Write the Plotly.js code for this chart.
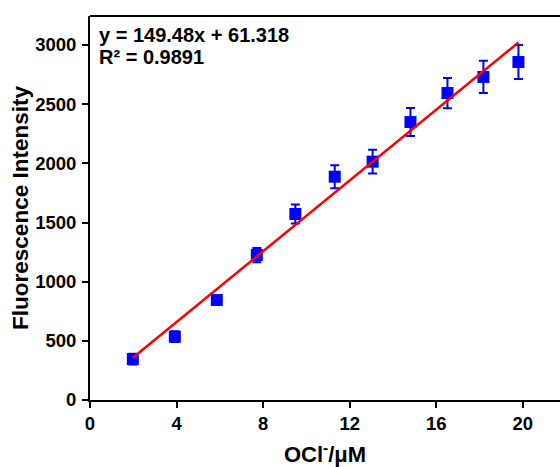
<!DOCTYPE html>
<html>
<head>
<meta charset="utf-8">
<script src="https://cdn.plot.ly/plotly-3.0.1.min.js"></script>
<style>html,body{margin:0;padding:0;background:#fff;}#chart{width:560px;height:467px;}</style>
</head>
<body>
<div id="chart"></div>
<script>
// Data
const concentration = [1.98, 3.92, 5.86, 7.71, 9.49, 11.31, 13.06, 14.81, 16.52, 18.18, 19.8];
const intensity = [346, 535, 845, 1225, 1572, 1887, 2014, 2349, 2594, 2730, 2856];
const intensityErr = [45, 45, 20, 60, 80, 97, 101, 118, 128, 136, 144];
const fitSlope = 149.48;
const fitIntercept = 61.318;
const fitR2 = 0.9891;
const xTicks = [0, 4, 8, 12, 16, 20];
const yTicks = [0, 500, 1000, 1500, 2000, 2500, 3000];

const fitX = [concentration[0], concentration[concentration.length - 1]];
const fitY = fitX.map(x => fitSlope * x + fitIntercept);

const font = 'Arial, "Liberation Sans", sans-serif';

const traces = [
  {
    x: concentration, y: intensity, type: 'scatter', mode: 'markers',
    marker: {symbol: 'square', size: 12, color: '#0000FF'},
    error_y: {type: 'data', array: intensityErr, visible: true, color: '#0000FF', thickness: 2, width: 4.5},
    showlegend: false, hoverinfo: 'x+y'
  },
  {
    x: fitX, y: fitY, type: 'scatter', mode: 'lines',
    line: {color: '#FF0000', width: 2.5}, showlegend: false
  }
];

const tickFont = {family: font, size: 18.5, weight: 'bold', color: '#000'};

const layout = {
  width: 560, height: 467,
  margin: {l: 90, r: 0, t: 16, b: 67},
  paper_bgcolor: '#fff', plot_bgcolor: '#fff',
  font: {family: font, size: 17, weight: 'bold', color: '#000'},
  xaxis: {
    range: [0, 21.72], tickmode: 'array', tickvals: xTicks, ticktext: xTicks.map(String),
    showgrid: false, zeroline: false, showline: true, linecolor: '#000', linewidth: 2,
    ticks: 'outside', ticklen: 6, tickwidth: 2, tickcolor: '#000',
    tickfont: tickFont,
    title: {text: 'OCl<sup>-</sup>/μM', font: {family: font, size: 22, weight: 'bold'}, standoff: 14}
  },
  yaxis: {
    range: [0, 3245], tickmode: 'array', tickvals: yTicks, ticktext: yTicks.map(String),
    showgrid: false, zeroline: false, showline: true, linecolor: '#000', linewidth: 2,
    ticks: 'outside', ticklen: 6, tickwidth: 2, tickcolor: '#000', ticklabelstandoff: 2,
    tickfont: tickFont,
    title: {text: 'Fluorescence Intensity', font: {family: font, size: 22.5, weight: 'bold'}, standoff: 0}
  },
  shapes: [
    {type: 'line', xref: 'paper', yref: 'paper', x0: 0, x1: 1, y0: 1, y1: 1, line: {color: '#000', width: 2}}
  ],
  annotations: [
    {xref: 'paper', yref: 'paper', x: 0.015, y: 0.9505, xanchor: 'left', yanchor: 'middle', showarrow: false, align: 'left',
     text: 'y = ' + fitSlope.toFixed(2) + 'x + ' + fitIntercept.toFixed(3),
     font: {family: font, size: 20, weight: 'bold'}},
    {xref: 'paper', yref: 'paper', x: 0.015, y: 0.893, xanchor: 'left', yanchor: 'middle', showarrow: false, align: 'left',
     text: 'R² = ' + fitR2.toFixed(4),
     font: {family: font, size: 20, weight: 'bold'}}
  ]
};

Plotly.newPlot('chart', traces, layout, {staticPlot: true, displayModeBar: false});
</script>
</body>
</html>
